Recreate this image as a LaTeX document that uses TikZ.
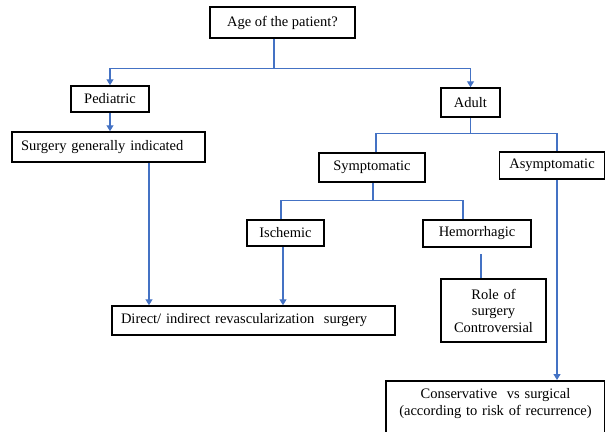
\documentclass[tikz,border=0pt]{standalone}
\usepackage{fontspec}
\setmainfont{Liberation Serif}
\usetikzlibrary{arrows.meta}
\definecolor{linkblue}{HTML}{4472C4}

\begin{document}
\begin{tikzpicture}[x=1pt, y=-1pt,
  box/.style={draw=black, line width=1.5pt, inner sep=2pt, font=\fontsize{14.5}{16.5}\selectfont},
  leftbox/.style={box, align=left, inner xsep=9pt},
  conn/.style={draw=linkblue, line width=1.2pt},
  arr/.style={conn, -{Triangle[length=6pt, width=7pt]}}]

  \useasboundingbox (0,0) rectangle (605,431);

  % Boxes
  \node[box, minimum width=145pt, minimum height=31pt] (age) at (282.5,22.5) {Age of the patient?};
  \node[box, minimum width=78pt, minimum height=26pt] (pedi) at (110,99) {Pediatric};
  \node[box, minimum width=59pt, minimum height=29pt] (adult) at (470.5,102.5) {Adult};
  \node[leftbox, text width=175pt, minimum height=30pt] (surg) at (108.5,147) {Surgery generally indicated};
  \node[box, minimum width=106pt, minimum height=29pt] (sympt) at (372,167.5) {Symptomatic};
  \node[box, minimum width=105pt, minimum height=27pt] (asympt) at (552,165.5) {Asymptomatic};
  \node[box, minimum width=77pt, minimum height=26pt] (isch) at (285.5,233) {Ischemic};
  \node[box, minimum width=108pt, minimum height=27pt] (hemo) at (477,233.5) {Hemorrhagic};
  \node[leftbox, text width=265pt, minimum height=29pt] (revasc) at (253.5,320.5) {Direct/ indirect revascularization\ \ surgery};
  \node[box, text width=101pt, align=center, minimum height=63pt] (role) at (493.5,310.5) {Role of\\surgery\\Controversial};
  \node[box, text width=215pt, align=center, anchor=north, inner ysep=8pt, text depth=90pt] (cons) at (495.5,380) {Conservative\ \ vs surgical\\(according to risk of recurrence)};

  % Age split
  \draw[conn] ([xshift=-8.5pt]age.south) -- ++(0,30) coordinate (agej);
  \draw[arr] (agej) -| (pedi.north);
  \draw[arr] (agej) -| (adult.north);

  % Pediatric branch
  \draw[arr] (pedi.south) -- (pedi.south |- surg.north);
  \draw[arr] (149,0 |- surg.south) -- (149,0 |- revasc.north);

  % Adult branch
  \draw[conn] (adult.south) -- ++(0,16) coordinate (adultj);
  \draw[conn] (376,0 |- sympt.north) |- (adultj) -| (557,0 |- asympt.north);

  % Symptomatic branch
  \draw[conn] (373,0 |- sympt.south) -- ++(0,18) coordinate (symptj);
  \draw[conn] (281,0 |- isch.north) |- (symptj) -| (463,0 |- hemo.north);
  \draw[arr] (283,0 |- isch.south) -- (283,0 |- revasc.north);

  % Hemorrhagic (open line to role box)
  \coordinate (hemoend) at (481,254);
  \draw[conn] (hemoend) -- (481,0 |- role.north);

  % Asymptomatic branch
  \draw[arr] (557,0 |- asympt.south) -- (557,0 |- cons.north);

\end{tikzpicture}
\end{document}
